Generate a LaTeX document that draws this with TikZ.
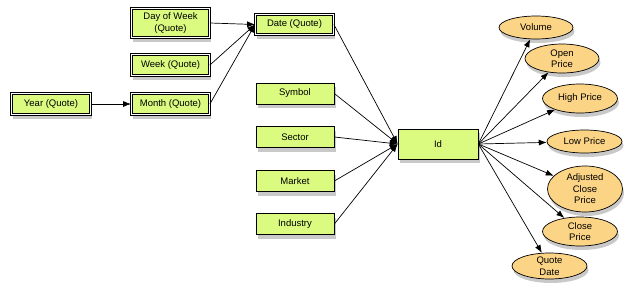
\documentclass[tikz,border=0pt]{standalone}
\usepackage{fontspec}
\setmainfont{Liberation Sans}
\usetikzlibrary{arrows.meta,shapes.geometric,shadows}

\definecolor{boxgreen}{RGB}{218,250,128}
\definecolor{attrorange}{RGB}{252,212,134}

\begin{document}
\begin{tikzpicture}[x=1pt,y=-1pt,line width=0.7pt,>/.tip={Latex[length=8pt,width=6pt]},
  every node/.style={font=\fontsize{9.5}{11.5}\selectfont,align=center},
  softshadow/.style={drop shadow={opacity=0.3,fill=black!70,shadow xshift=1.5pt,shadow yshift=-4pt}},
  table/.style={draw,shape=rectangle,fill=boxgreen,minimum width=78pt,minimum height=21pt,inner sep=1pt,softshadow},
  dim/.style={table,line width=0.8pt,double=white,double distance=1.4pt,minimum width=78pt,minimum height=21pt},
  attr/.style={draw,shape=ellipse,fill=attrorange,minimum width=75pt,minimum height=26pt,inner sep=0pt,softshadow}]
\useasboundingbox (0,0) rectangle (633,295);

% date hierarchy
\draw (51,104)    node (year)  [dim,minimum width=79pt] {Year (Quote)};
\draw (170.5,23)  node (dow)   [dim,minimum height=29pt] {Day of Week\\(Quote)};
\draw (170.5,65)  node (week)  [dim] {Week (Quote)};
\draw (170.5,104) node (month) [dim] {Month (Quote)};
\draw (294.5,24.5) node (date) [dim,minimum height=20pt] {Date (Quote)};

% plain dimensions
\draw (295,93.5)  node (symbol)   [table] {Symbol};
\draw (295,137)   node (sector)   [table] {Sector};
\draw (295,181)   node (market)   [table] {Market};
\draw (295,224)   node (industry) [table] {Industry};

% fact
\draw (438,144)   node (id) [table,minimum width=80pt,minimum height=30pt] {Id};

% measures
\draw (536,27.5)  node (volume)   [attr,minimum width=74pt,minimum height=23pt] {Volume};
\draw (562,58.5)  node (open)     [attr,minimum width=74pt,minimum height=29pt] {Open\\Price};
\draw (580,98.5)  node (high)     [attr,minimum height=29pt] {High Price};
\draw (584.5,141.5) node (low)    [attr,minimum height=23pt] {Low Price};
\draw (585,189)   node (adjclose) [attr,minimum height=46pt] {Adjusted\\Close\\Price};
\draw (580,231.5) node (close)    [attr,minimum height=29pt] {Close\\Price};
\draw (549.5,266) node (qdate)    [attr] {Quote\\Date};

\draw[->] (year) -- (month);
\draw[->] (dow.east) -- (date.west);
\draw[->] (week.east) -- (date.west);
\draw[->] (month.east) -- (date.west);

\foreach \n in {date,symbol,sector,market,industry}
  \draw[->] (\n.east) -- (id.west);

\foreach \n in {volume,open,high,low,adjclose,close,qdate}
  \draw[->] (id.east) -- (\n);

\end{tikzpicture}
\end{document}
